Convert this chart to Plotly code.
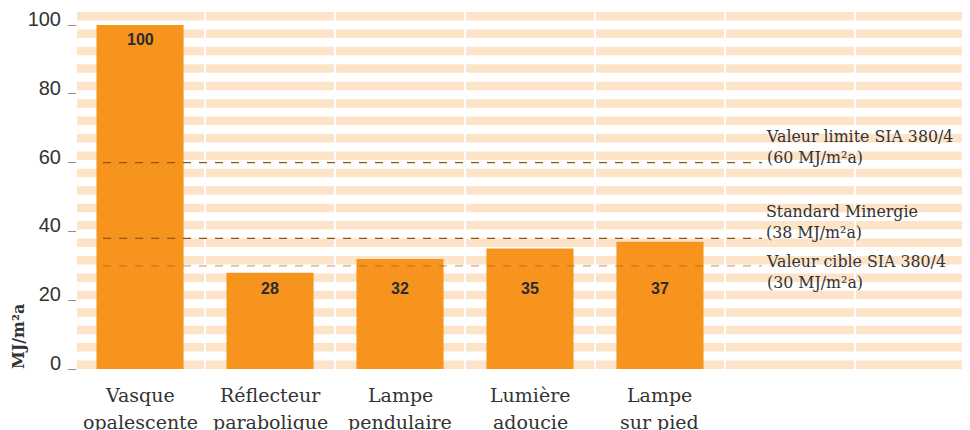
import plotly.graph_objects as go

# ---- data ----
cat_line1 = ["Vasque", "Réflecteur", "Lampe", "Lumière", "Lampe"]
cat_line2 = ["opalescente", "parabolique", "pendulaire", "adoucie", "sur pied"]
values = [100, 28, 32, 35, 37]
ref_values = [60, 38, 30]
ref_line1 = ["Valeur limite SIA 380/4", "Standard Minergie", "Valeur cible SIA 380/4"]
ref_line2 = ["(60 MJ/m²a)", "(38 MJ/m²a)", "(30 MJ/m²a)"]
y_ticks = [0, 20, 40, 60, 80, 100]
y_title = "MJ/m²a"

# ---- style ----
BAR = "#F7941E"
STRIPE = "#FDE4C9"
TXT = "#333333"
SERIF = "DejaVu Serif"
SANS = "Liberation Sans"
OFF = 8  # default page body margin

xs = list(range(len(values)))

fig = go.Figure()
fig.add_trace(go.Bar(x=xs, y=values, width=0.67, marker=dict(color=BAR, line=dict(width=0)),
                     hoverinfo="skip"))

shapes = []
# horizontal stripes (background decoration)
n_str = 21
h = 8.5 / 357
for k in range(n_str):
    y0 = k * (1 - h) / (n_str - 1)
    shapes.append(dict(type="rect", xref="paper", yref="paper", x0=0, x1=1, y0=y0, y1=y0 + h,
                       fillcolor=STRIPE, line=dict(width=0), layer="below"))
# white column separators
for i in range(6):
    shapes.append(dict(type="line", xref="x", yref="paper", x0=i + 0.5, x1=i + 0.5, y0=0, y1=1,
                       line=dict(color="white", width=2), layer="below"))
# reference dashed lines
ref_colors = ["#8f5414", "#8f5414", "rgba(150,92,30,0.5)"]
for v, c in zip(ref_values, ref_colors):
    shapes.append(dict(type="line", xref="x", yref="y", x0=-0.285, x1=4.785, y0=v, y1=v,
                       line=dict(color=c, width=1.2, dash="8px,8px"), layer="above"))

annotations = []
# bar value labels
for x, v in zip(xs, values):
    ly = v - 4.1 if v > 50 else 23.35
    annotations.append(dict(x=x, y=ly, xref="x", yref="y", text=str(v), showarrow=False,
                            font=dict(family=SANS, size=16, color="#2b2b2b", weight="bold"),
                            yanchor="middle"))
# category labels
for x, a, b in zip(xs, cat_line1, cat_line2):
    annotations.append(dict(x=x, y=0, xref="x", yref="paper", text=a, showarrow=False,
                            font=dict(family=SERIF, size=19, color=TXT),
                            yanchor="middle", yshift=-26))
    annotations.append(dict(x=x, y=0, xref="x", yref="paper", text=b, showarrow=False,
                            font=dict(family=SERIF, size=19, color=TXT),
                            yanchor="middle", yshift=-52.5))
# reference labels
ref_shift = [16, 16.3, -6]
for v, a, b, s in zip(ref_values, ref_line1, ref_line2, ref_shift):
    annotations.append(dict(x=4.80, y=v, xref="x", yref="y", text=a + "<br>" + b, showarrow=False,
                            font=dict(family=SERIF, size=15.8, color=TXT), align="left",
                            xanchor="left", yanchor="middle", yshift=s))
# y-axis title
annotations.append(dict(x=0, y=0, xref="paper", yref="paper", text=y_title, showarrow=False,
                        textangle=-90, font=dict(family=SERIF, size=16, color=TXT, weight="bold"),
                        xanchor="center", yanchor="middle", xshift=-59, yshift=32))

fig.update_layout(
    width=970 - OFF, height=430 - OFF,
    margin=dict(l=77 - OFF, r=0, t=12 - OFF, b=61, pad=0),
    plot_bgcolor="white", paper_bgcolor="white",
    showlegend=False,
    shapes=shapes, annotations=annotations,
    xaxis=dict(range=[-0.485, 6.385], showticklabels=False, showgrid=False,
               zeroline=False, showline=False, ticks="", fixedrange=True),
    yaxis=dict(range=[0, 103.78], tickvals=y_ticks, ticks="outside", ticklen=8, tickwidth=1,
               tickcolor="#8c8c8c", showgrid=False, zeroline=False, showline=False,
               tickfont=dict(family=SANS, size=20, color=TXT), ticklabelshift=-6,
               ticklabelstandoff=3, fixedrange=True),
)

fig.write_html("out.html")
